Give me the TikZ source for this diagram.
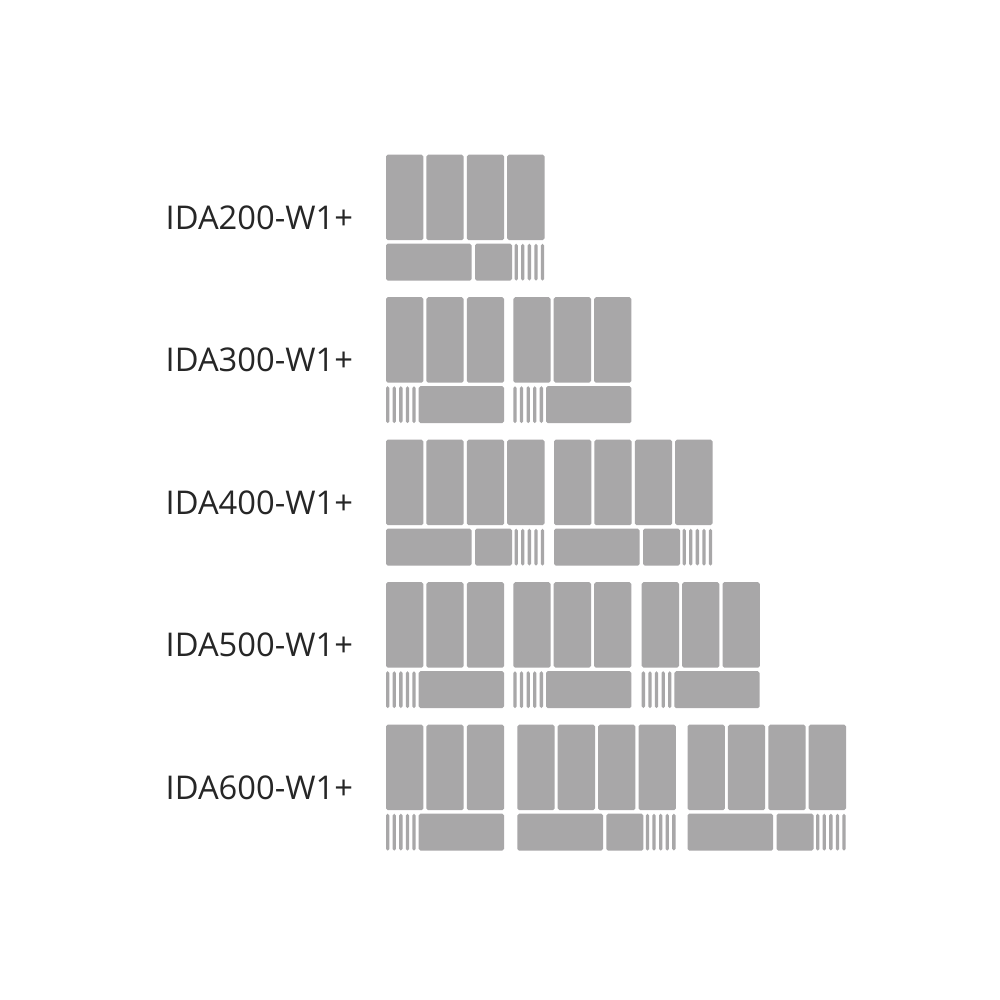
\documentclass[tikz,border=0pt]{standalone}
\usepackage{fontspec}
\setmainfont{Open Sans}
\usepackage{tikz}

\begin{document}
\begin{tikzpicture}[
  x=0.01cm,
  y=-0.01cm,
  font=\fontsize{9.3}{11}\selectfont,
  cell/.style={fill=idagray,rounded corners=0.5pt},
  label/.style={anchor=base west,inner sep=0pt,text=idatext},
  fourbay/.pic={
    \foreach \i in {0,...,3}
      \fill[cell] (\i*40.4,0) rectangle ++(37.3,85.5);
    \fill[cell] (0,89) rectangle (85.7,126);
    \fill[cell] (89,89) rectangle (126,126);
    \foreach \i in {0,...,4}
      \fill[cell] (128.5+\i*6.6,89) rectangle ++(3.3,37);
  },
  threebay/.pic={
    \foreach \i in {0,...,2}
      \fill[cell] (\i*40.4,0) rectangle ++(37.3,85.5);
    \foreach \i in {0,...,4}
      \fill[cell] (\i*6.6,89) rectangle ++(3.3,37);
    \fill[cell] (32.7,89) rectangle (118,126);
  }
]
  \definecolor{idagray}{HTML}{A8A7A8}
  \definecolor{idatext}{HTML}{262626}

  \useasboundingbox[fill=white] (0,0) rectangle (1000,1000);

  % IDA200
  \node[label] (ida200) at (165,229) {IDA200-W1+};
  \pic at (386,154.7) {fourbay};

  % IDA300
  \node[label] (ida300) at (165,371.5) {IDA300-W1+};
  \pic at (386,297.2) {threebay};
  \pic at (513.3,297.2) {threebay};

  % IDA400
  \node[label] (ida400) at (165,514) {IDA400-W1+};
  \pic at (386,439.7) {fourbay};
  \pic at (554,439.7) {fourbay};

  % IDA500
  \node[label] (ida500) at (165,656.5) {IDA500-W1+};
  \foreach \x in {386,513.3,641.7}
    \pic at (\x,582.2) {threebay};

  % IDA600
  \node[label] (ida600) at (165,799) {IDA600-W1+};
  \pic at (386,724.7) {threebay};
  \pic at (517.3,724.7) {fourbay};
  \pic at (687.5,724.7) {fourbay};
\end{tikzpicture}
\end{document}
